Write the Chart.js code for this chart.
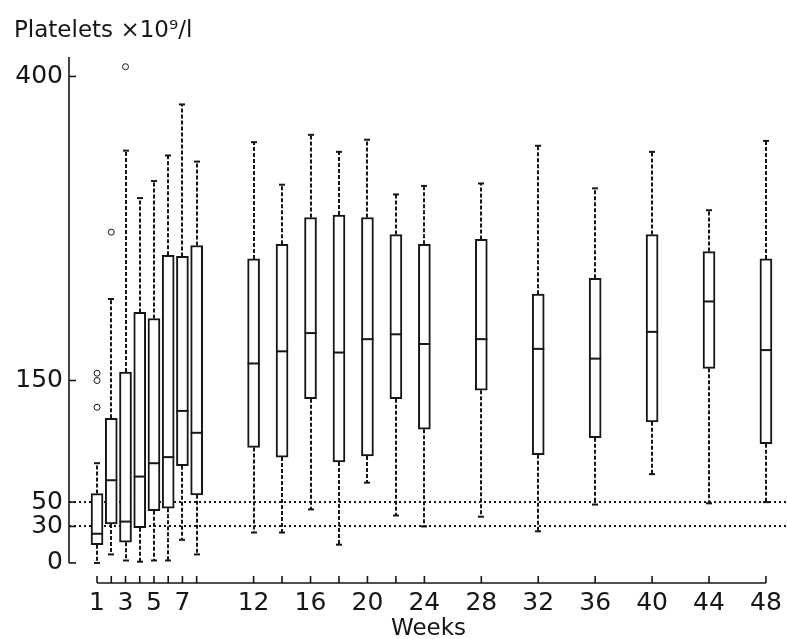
<!DOCTYPE html>
<html><head><meta charset="utf-8">
<script src="https://cdn.jsdelivr.net/npm/chart.js@4/dist/chart.umd.min.js"></script>
<style>html,body{margin:0;padding:0;background:#fff}#wrap{width:788px;height:639px;position:relative}</style>
</head><body><div id="wrap"><canvas id="c"></canvas></div>
<script>
// ---- data ----
const weeks       = [1, 2, 3, 4, 5, 6, 7, 8, 12, 14, 16, 18, 20, 22, 24, 28, 32, 36, 40, 44, 48];
const whiskerLow  = [0, 7, 2, 1, 2, 2, 19, 7, 25, 25, 44, 15, 66, 39, 30, 38, 26, 48, 73, 49, 50];
const q1          = [15, 32, 17, 29, 43, 45, 80, 56, 95, 87, 135, 83, 88, 135, 110, 142, 89, 103, 116, 160, 98];
const median      = [24, 68, 34, 71, 82, 87, 125, 107, 164, 174, 189, 173, 184, 188, 180, 184, 176, 168, 190, 215, 175];
const q3          = [57, 119, 157, 206, 201, 253, 252, 261, 250, 262, 284, 286, 284, 270, 262, 266, 221, 234, 270, 256, 250];
const whiskerHigh = [82, 217, 339, 300, 314, 335, 377, 330, 346, 311, 352, 338, 348, 303, 310, 312, 343, 308, 338, 290, 347];
const outlierWeeks  = [1, 1, 1, 2, 3];
const outlierValues = [156, 150, 128, 272, 408];
const tickWeeks  = [1, 2, 3, 4, 5, 6, 7, 8, 12, 14, 16, 18, 20, 22, 24, 28, 32, 36, 40, 44, 48];
const labelWeeks = [1, 3, 5, 7, 12, 16, 20, 24, 28, 32, 36, 40, 44, 48];
const yTickValues = [0, 30, 50, 150, 400];
const refLevels = [30, 50];

const INK = '#161616';
const FONT = '"DejaVu Sans", sans-serif';

const boxParts = {
  id: 'boxParts',
  beforeDatasetsDraw(chart) {
    const {ctx, chartArea: ca, scales: {x, y}} = chart;
    ctx.save();
    // reference dotted lines
    ctx.strokeStyle = INK; ctx.lineWidth = 2; ctx.setLineDash([2, 3]);
    refLevels.forEach(v => {
      const py = Math.round(y.getPixelForValue(v));
      ctx.beginPath(); ctx.moveTo(ca.left, py); ctx.lineTo(ca.right, py); ctx.stroke();
    });
    // whiskers
    ctx.setLineDash([4, 2]);
    weeks.forEach((w, i) => {
      const px = Math.round(x.getPixelForValue(w));
      ctx.beginPath();
      ctx.moveTo(px, y.getPixelForValue(q3[i])); ctx.lineTo(px, y.getPixelForValue(whiskerHigh[i]));
      ctx.moveTo(px, y.getPixelForValue(q1[i])); ctx.lineTo(px, y.getPixelForValue(whiskerLow[i]));
      ctx.stroke();
    });
    ctx.setLineDash([]);
    // caps
    weeks.forEach((w, i) => {
      const px = Math.round(x.getPixelForValue(w));
      [whiskerHigh[i], whiskerLow[i]].forEach(v => {
        const py = y.getPixelForValue(v);
        ctx.beginPath(); ctx.moveTo(px - 3, py); ctx.lineTo(px + 3, py); ctx.stroke();
      });
    });
    ctx.restore();
  },
  afterDatasetsDraw(chart) {
    const {ctx, chartArea: ca, scales: {x, y}} = chart;
    ctx.save();
    ctx.strokeStyle = INK; ctx.lineWidth = 2;
    // medians
    weeks.forEach((w, i) => {
      const px = x.getPixelForValue(w);
      const py = y.getPixelForValue(median[i]);
      ctx.beginPath(); ctx.moveTo(px - 6, py); ctx.lineTo(px + 6, py); ctx.stroke();
    });
    // y axis
    const yx = ca.left;
    ctx.lineWidth = 1.6;
    ctx.beginPath(); ctx.moveTo(yx, ca.top); ctx.lineTo(yx, y.getPixelForValue(0)); ctx.stroke();
    yTickValues.forEach(v => {
      const py = y.getPixelForValue(v);
      ctx.beginPath(); ctx.moveTo(yx, py); ctx.lineTo(yx + 7, py); ctx.stroke();
    });
    // x axis
    const xb = ca.bottom;
    ctx.beginPath();
    ctx.moveTo(x.getPixelForValue(tickWeeks[0]), xb);
    ctx.lineTo(x.getPixelForValue(tickWeeks[tickWeeks.length - 1]), xb);
    ctx.stroke();
    tickWeeks.forEach(w => {
      const px = x.getPixelForValue(w);
      ctx.beginPath(); ctx.moveTo(px, xb); ctx.lineTo(px, xb - 7); ctx.stroke();
    });
    ctx.restore();
  }
};

new Chart(document.getElementById('c'), {
  type: 'bar',
  data: {
    datasets: [
      {
        type: 'scatter',
        data: outlierWeeks.map((w, i) => ({x: w, y: outlierValues[i]})),
        pointStyle: 'circle', pointRadius: 3, borderWidth: 1,
        borderColor: INK, backgroundColor: '#fff'
      },
      {
        type: 'bar',
        data: weeks.map((w, i) => ({x: w, y: [q1[i], q3[i]]})),
        barThickness: 12,
        backgroundColor: '#fff', borderColor: INK, borderWidth: 2, borderSkipped: false
      }
    ]
  },
  options: {
    responsive: true, maintainAspectRatio: false, animation: false,
    layout: {padding: {left: 14, right: 0, top: 0, bottom: 0}, autoPadding: false},
    plugins: {
      legend: {display: false}, tooltip: {enabled: false},
      title: {
        display: true, text: 'Platelets ×10⁹/l', align: 'start', color: INK,
        font: {family: FONT, size: 23, weight: 'normal', lineHeight: 1.2},
        padding: {top: 17, bottom: 12.4}
      }
    },
    scales: {
      x: {
        type: 'linear', min: -0.97, max: 49.55, offset: false,
        grid: {display: false, drawTicks: false, offset: false}, border: {display: false},
        afterBuildTicks: s => { s.ticks = labelWeeks.map(v => ({value: v})); },
        afterFit: s => { s.height = 56; },
        ticks: {autoSkip: false, maxRotation: 0, padding: 5, color: INK,
                font: {family: FONT, size: 25}, callback: v => String(v)},
        title: {display: true, text: 'Weeks', color: INK, padding: {top: 0, bottom: 0},
                font: {family: FONT, size: 23, lineHeight: 0.9}}
      },
      y: {
        type: 'linear', min: -16.5, max: 416,
        grid: {display: false, drawTicks: false}, border: {display: false},
        afterBuildTicks: s => { s.ticks = yTickValues.map(v => ({value: v})); },
        afterFit: s => { s.width = 55; },
        ticks: {padding: 6, color: INK, font: {family: FONT, size: 25}, callback: v => String(v)}
      }
    }
  },
  plugins: [boxParts]
});
</script></body></html>
